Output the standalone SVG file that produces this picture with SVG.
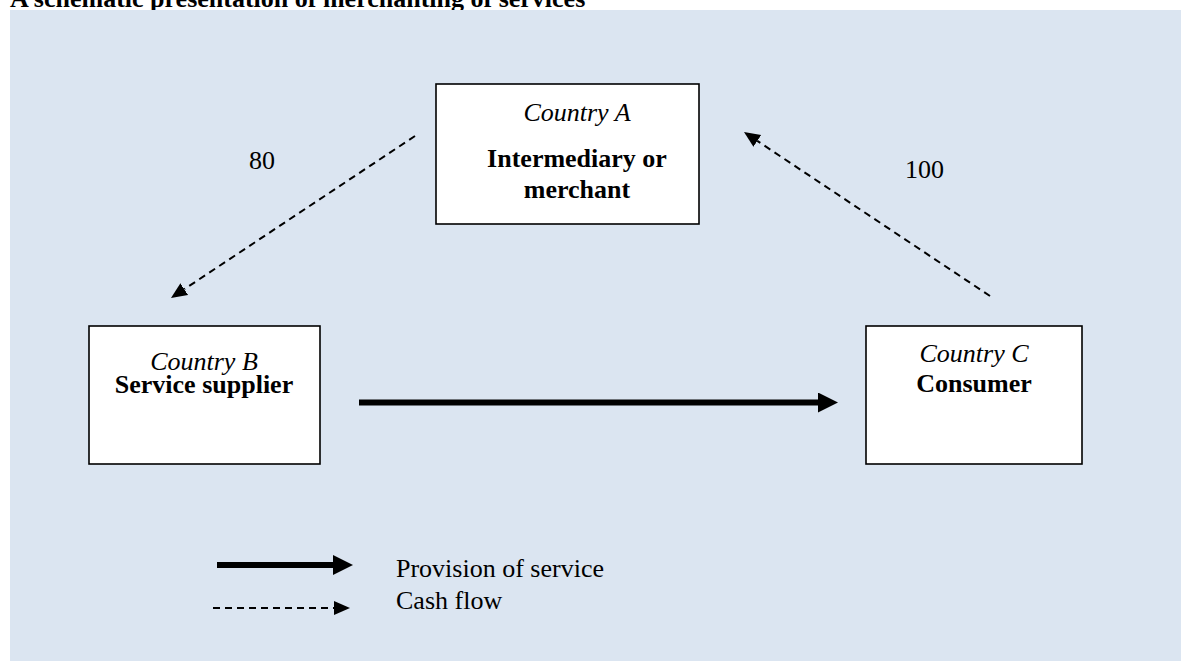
<svg xmlns="http://www.w3.org/2000/svg" width="1181" height="661" viewBox="0 0 1181 661">
<style>
text{font-family:"Liberation Serif","Times New Roman",serif;font-size:26px;fill:#000}
.b{font-weight:bold}
.i{font-style:italic}
.c{text-anchor:middle}
.box{fill:#fff;stroke:#000;stroke-width:1.6}
.solid{stroke:#000;stroke-width:6;fill:none}
.dash{stroke:#000;stroke-width:2;stroke-dasharray:7 5;fill:none}
</style>
<defs>
<marker id="ah" markerUnits="userSpaceOnUse" markerWidth="20" markerHeight="20" refX="0" refY="10" orient="auto">
<path d="M0,0 L20,10 L0,20 z" fill="#000"/>
</marker>
<marker id="ad" markerUnits="userSpaceOnUse" markerWidth="16" markerHeight="16" refX="0" refY="8" orient="auto">
<path d="M0,1 L16,8 L0,15 z" fill="#000"/>
</marker>
</defs>
<text class="b" x="10" y="7">A schematic presentation of merchanting of services</text>
<rect x="10" y="10" width="1171" height="651" fill="#dbe5f1"/>
<g id="nodeA">
<rect class="box" x="436" y="84" width="263" height="140"/>
<text class="i c" x="577" y="121">Country A</text>
<text class="b c" x="577" y="167">Intermediary or</text>
<text class="b c" x="577" y="198">merchant</text>
</g>
<g id="nodeB">
<rect class="box" x="89" y="326" width="231" height="138"/>
<text class="i c" x="204" y="370">Country B</text>
<text class="b c" x="204" y="393">Service supplier</text>
</g>
<g id="nodeC">
<rect class="box" x="866" y="326" width="216" height="138"/>
<text class="i c" x="974" y="362">Country C</text>
<text class="b c" x="974" y="392">Consumer</text>
</g>
<g id="connectors">
<line class="solid" x1="359" y1="402.5" x2="818" y2="402.5" marker-end="url(#ah)"/>
<line class="dash" x1="415" y1="136" x2="184.3" y2="289.2" marker-end="url(#ad)"/>
<line class="dash" x1="990" y1="296" x2="757.3" y2="140.9" marker-end="url(#ad)"/>
</g>
<g id="labels">
<text x="249" y="169">80</text>
<text x="905" y="178">100</text>
</g>
<g id="legend">
<line class="solid" x1="217" y1="565" x2="333" y2="565" marker-end="url(#ah)"/>
<line class="dash" x1="213" y1="608" x2="334" y2="608" marker-end="url(#ad)"/>
<text x="396" y="577">Provision of service</text>
<text x="396" y="609">Cash flow</text>
</g>
</svg>
